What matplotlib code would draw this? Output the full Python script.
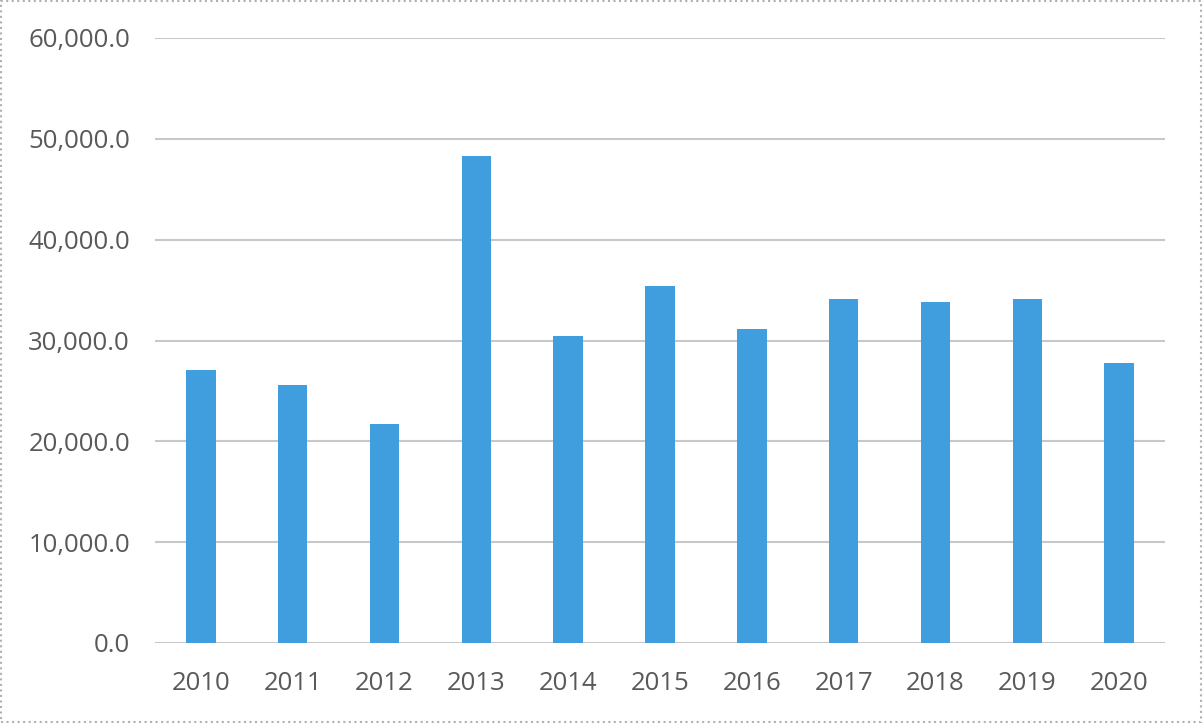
import matplotlib
matplotlib.use("Agg")
import matplotlib.pyplot as plt
from matplotlib.patches import Rectangle
from matplotlib.ticker import FuncFormatter

years = ["2010", "2011", "2012", "2013", "2014", "2015",
         "2016", "2017", "2018", "2019", "2020"]
values = [27100, 25600, 21750, 48300, 30450, 35400,
          31150, 34100, 33800, 34100, 27800]
y_ticks = [0, 10000, 20000, 30000, 40000, 50000, 60000]

plt.rcParams['font.family'] = ['Open Sans', 'DejaVu Sans']

fig = plt.figure(figsize=(12.03, 7.23), dpi=100)
ax = fig.add_axes([155 / 1203, 1 - 643 / 723, 1010 / 1203, 605 / 723])

x = range(len(years))
ax.bar(x, values, width=0.32, color='#419ede', zorder=3)

ax.set_xlim(-0.5, len(years) - 0.5)
ax.set_ylim(0, 60000)
ax.set_yticks(y_ticks)
ax.yaxis.set_major_formatter(FuncFormatter(lambda v, p: f"{v:,.1f}"))
ax.set_xticks(list(x))
ax.set_xticklabels(years)

ax.grid(axis='y', color='#c8c8c8', linewidth=1.5, zorder=0)
for s in ax.spines.values():
    s.set_visible(False)
ax.tick_params(axis='both', length=0, labelsize=18.5, colors='#595959')
ax.tick_params(axis='y', pad=18)
ax.tick_params(axis='x', pad=20)

# outer frame of the chart
fig.patches.append(Rectangle((0.001, 0.001), 0.997, 0.997, transform=fig.transFigure,
                             fill=False, edgecolor='#b0b0b0', linewidth=1.5,
                             linestyle=':'))

fig.savefig("out.png", dpi=100)
